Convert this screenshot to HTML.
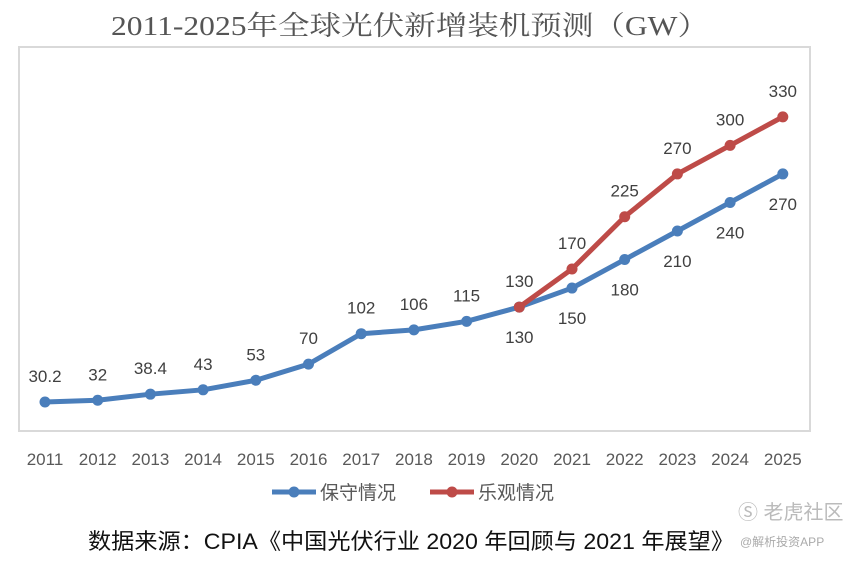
<!DOCTYPE html>
<html><head><meta charset="utf-8"><style>
html,body{margin:0;padding:0;background:#fff;}
svg{display:block;font-family:"Liberation Sans","Noto Sans CJK SC",sans-serif;}
</style></head><body>
<svg id="chart" width="854" height="561" viewBox="0 0 854 561">
<text x="410" y="35" font-size="27" fill="#555" text-anchor="middle" textLength="598" lengthAdjust="spacingAndGlyphs" font-family="Liberation Serif, Noto Serif CJK SC, serif">2011-2025年全球光伏新增装机预测（GW）</text>
<rect x="19" y="47" width="791" height="384" fill="#fff" stroke="#d9d9d9" stroke-width="2"/>
<g id="xlabels"></g>
<g id="lines"></g>
<g id="labels"></g>
<g>
<g>
<line x1="272" y1="492" x2="316" y2="492" stroke="#4a7ebb" stroke-width="5"/><circle cx="294" cy="492" r="5.5" fill="#4a7ebb"/>
<text x="320" y="499" font-size="19" fill="#595959">保守情况</text></g>
<g>
<line x1="430" y1="492" x2="474" y2="492" stroke="#be4b48" stroke-width="5"/><circle cx="452" cy="492" r="5.5" fill="#be4b48"/>
<text x="478" y="499" font-size="19" fill="#595959">乐观情况</text></g>
</g>
<text x="88" y="549" font-size="22" fill="#111" textLength="646" lengthAdjust="spacingAndGlyphs">数据来源：CPIA《中国光伏行业 2020 年回顾与 2021 年展望》</text>
<text x="738" y="519" font-size="20" fill="#bbb">Ⓢ 老虎社区</text>
<text x="740" y="546" font-size="12" fill="#aaa">@解析投资APP</text>
</svg>
<script>
const years=["2011","2012","2013","2014","2015","2016","2017","2018","2019","2020","2021","2022","2023","2024","2025"];
const conservative=[30.2,32,38.4,43,53,70,102,106,115,130,150,180,210,240,270];
const optimistic=[null,null,null,null,null,null,null,null,null,130,170,225,270,300,330];
const consLabels=["30.2","32","38.4","43","53","70","102","106","115","130","150","180","210","240","270"];
const optLabels=["","","","","","","","","","130","170","225","270","300","330"];
const NS="http://www.w3.org/2000/svg";
const xs=i=>45+i*52.7;
const ys=v=>430.7-v*0.951;
function mk(t,a,p){const e=document.createElementNS(NS,t);for(const k in a)e.setAttribute(k,a[k]);p.appendChild(e);return e;}
const xl=document.getElementById('xlabels'),ln=document.getElementById('lines'),lb=document.getElementById('labels');
years.forEach((y,i)=>{const t=mk('text',{x:xs(i),y:465,'font-size':17,fill:'#595959','text-anchor':'middle'},xl);t.textContent=y;

});
function series(vals,color,name){
 let d='';vals.forEach((v,i)=>{if(v==null)return;d+=(d?'L':'M')+xs(i)+','+ys(v);});
 const p=mk('path',{d:d,fill:'none',stroke:color,'stroke-width':5,'stroke-linejoin':'round'},ln);
 
 
 vals.forEach((v,i)=>{if(v==null)return;const c=mk('circle',{cx:xs(i),cy:ys(v),r:5.5,fill:color},ln);
 
 });
}
series(conservative,'#4a7ebb','conservative');
series(optimistic,'#be4b48','optimistic');
conservative.forEach((v,i)=>{const below=i>=9;const t=mk('text',{x:xs(i),y:below?ys(v)+36:ys(v)-20,'font-size':17,fill:'#404040','text-anchor':'middle'},lb);t.textContent=consLabels[i];

});
optimistic.forEach((v,i)=>{if(v==null)return;const t=mk('text',{x:xs(i),y:ys(v)-20,'font-size':17,fill:'#404040','text-anchor':'middle'},lb);t.textContent=optLabels[i];

});
</script>
</body></html>
